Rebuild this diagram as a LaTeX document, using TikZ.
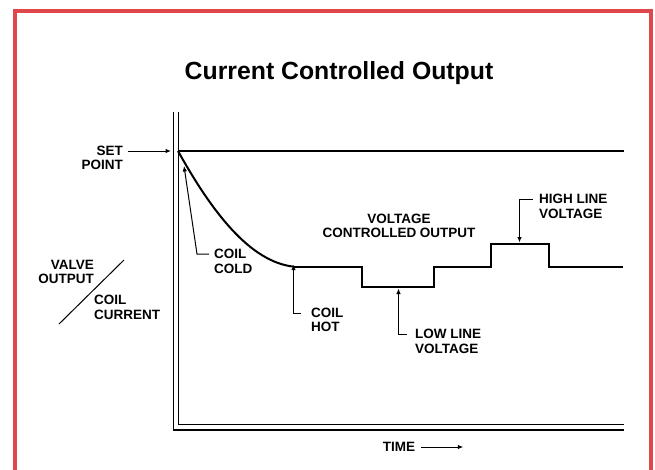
\documentclass[tikz,border=0pt]{standalone}
\usepackage{fontspec}
\setmainfont{Liberation Sans}
\usetikzlibrary{arrows.meta}
\definecolor{framered}{HTML}{E0474C}

\begin{document}
\begin{tikzpicture}[x=1pt, y=-1pt,
    lbl/.style={inner sep=0pt, font=\fontsize{13.5}{14.5}\selectfont\bfseries},
    trace/.style={line width=2pt, line join=miter},
    pointer/.style={line width=1pt, -{Latex[length=5.5pt, width=4.5pt]}}]
    \useasboundingbox (0,0) rectangle (655,469);
    % frame
    \draw[framered, line width=4pt] (15,475) -- (15,11) -- (651,11) -- (651,475);
    \node[inner sep=0pt, font=\fontsize{24.8}{28}\selectfont\bfseries] (title) at (339,73.5) {Current Controlled Output};
    % axes
    \draw[line width=1.4pt] (173.5,112) -- (173.5,430) -- (624,430);
    \draw[line width=1pt] (178,112) -- (178,424.5) -- (624,424.5);
    % points on the traces
    \coordinate (sp) at (178,151);
    \coordinate (hot) at (294,266.7);
    \coordinate (cold) at (184,166);
    \coordinate (low) at (398.5,288.5);
    \coordinate (high) at (519.5,242.5);
    \draw[trace] (sp) -- (624,151);
    \draw[trace] (sp) .. controls (212,212) and (250,262) .. (hot);
    \draw[trace] (hot) -- (362,266.7) -- (362,287.3) -- (434,287.3) -- (434,266.7)
        -- (491,266.7) -- (491,243.7) -- (549,243.7) -- (549,266.7) -- (623,266.7);
    % labels
    \node[lbl, anchor=east, align=right] (setpt) at (123,158) {SET\\POINT};
    \node[lbl, anchor=west, align=left] (coilcold) at (214,261.5) {COIL\\COLD};
    \node[lbl, anchor=west, align=left] (coilhot) at (311,320) {COIL\\HOT};
    \node[lbl, anchor=west, align=left] (lowline) at (415,341.5) {LOW LINE\\VOLTAGE};
    \node[lbl, anchor=west, align=left] (highline) at (539,206.5) {HIGH LINE\\VOLTAGE};
    \node[lbl, align=center] (vco) at (399,226) {VOLTAGE\\CONTROLLED OUTPUT};
    \node[lbl, anchor=east, align=right] (valve) at (94,272) {VALVE\\OUTPUT};
    \node[lbl, anchor=west, align=left] (coilcur) at (94,307.5) {COIL\\CURRENT};
    \node[lbl] (time) at (399,447) {TIME};
    % pointers
    \draw[pointer] (setpt.east |- sp) ++(5,0) -- ([xshift=-7pt]sp);
    \draw[pointer] (coilcold.west |- 0,254) ++(-5,0) -- (197,254) -- (cold);
    \draw[pointer] (coilhot.west |- 0,313) ++(-10,0) -- (293.5,313) -- ([yshift=2pt]hot -| 293.5,0);
    \draw[pointer] (lowline.west |- 0,334) ++(-8,0) -- (398.5,334) -- (low);
    \draw[pointer] (highline.west |- 0,199.5) ++(-6,0) -- (519.5,199.5) -- (high);
    \draw[line width=1pt] (59,324) -- (124,260);
    \draw[pointer] ([xshift=6pt]time.east) -- ++(42,0);
\end{tikzpicture}
\end{document}
